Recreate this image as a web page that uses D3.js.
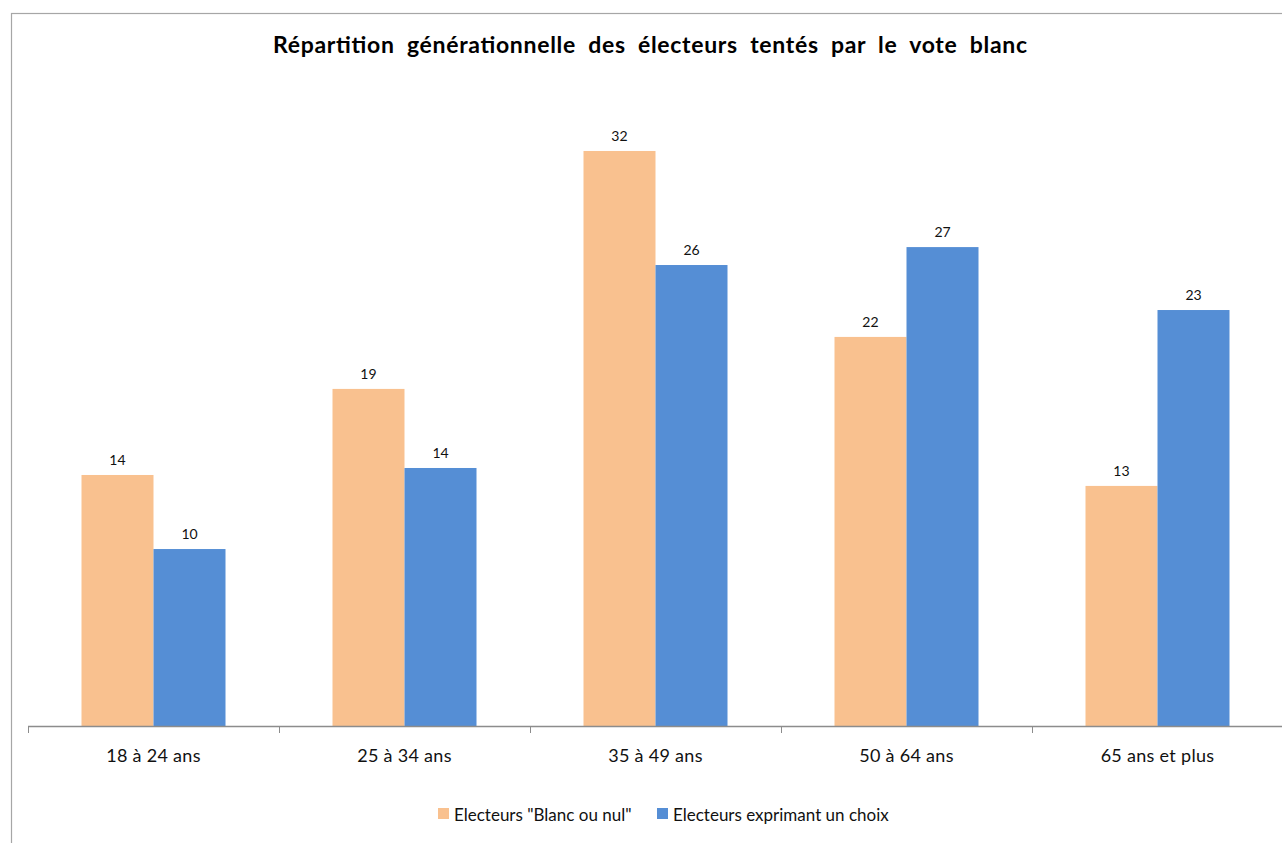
<!DOCTYPE html>
<html>
<head>
<meta charset="utf-8">
<style>
    body { margin: 0; background: #fff; }
    svg { display: block; font-family: Lato, "Noto Sans", sans-serif; }
</style>
</head>
<body>
<svg id="chart" width="1282" height="843"></svg>

<script src="https://cdn.jsdelivr.net/npm/d3@7"></script>
<script>
    // data
    let categories = ["18 à 24 ans", "25 à 34 ans", "35 à 49 ans", "50 à 64 ans", "65 ans et plus"]
    let seriesNames = ["Electeurs \"Blanc ou nul\"", "Electeurs exprimant un choix"]
    let blancOuNul = [14.0, 18.8, 32.07, 21.7, 13.39]
    let exprimantChoix = [9.87, 14.39, 25.71, 26.71, 23.2]
    let colors = ["#F9C18F", "#558ED5"]

    let svg = d3.select("#chart")

    // outer frame of the chart (runs off the right and bottom)
    svg.append("rect")
        .attr("x", 11.5).attr("y", 13.5)
        .attr("width", 1400).attr("height", 900)
        .attr("fill", "none")
        .attr("stroke", "#a6a6a6")
        .attr("stroke-width", 1.2)

    svg.append("text")
        .attr("x", 273).attr("y", 53)
        .attr("font-size", 23)
        .attr("font-weight", "bold")
        .attr("word-spacing", 6)
        .attr("textLength", 754)
        .attr("lengthAdjust", "spacing")
        .attr("fill", "#000")
        .text("Répartition générationnelle des électeurs tentés par le vote blanc")

    let x = d3.scaleBand()
        .domain(categories)
        .range([28, 1283])

    let xs = d3.scaleBand()
        .domain([0, 1])
        .range([0, x.bandwidth()])
        .paddingOuter(0.743)

    let y = d3.scaleLinear()
        .domain([0, 35])
        .range([726, 726 - 35 * 17.93])

    let rows = categories.map((c, i) => ({
        cat: c,
        vals: [blancOuNul[i], exprimantChoix[i]]
    }))

    let groups = svg.selectAll(".grp")
        .data(rows)
        .enter()
        .append("g")
        .attr("transform", d => `translate(${x(d.cat)},0)`)

    let bars = groups.selectAll("g")
        .data(d => d.vals.map((v, k) => ({ v: v, k: k })))
        .enter()
        .append("g")

    bars.append("rect")
        .attr("x", d => xs(d.k))
        .attr("width", xs.bandwidth())
        .attr("y", d => y(d.v))
        .attr("height", d => y(0) - y(d.v))
        .attr("fill", d => colors[d.k])

    bars.append("text")
        .attr("x", d => xs(d.k) + xs.bandwidth() / 2)
        .attr("y", d => y(d.v) - 10)
        .attr("text-anchor", "middle")
        .attr("font-size", 14)
        .attr("fill", "#111")
        .text(d => d3.format(".0f")(d.v))

    // x axis: ticks between categories
    let axis = svg.append("g")
    axis.append("line")
        .attr("x1", 28).attr("x2", 1283)
        .attr("y1", 726.5).attr("y2", 726.5)
        .attr("stroke", "#8c8c8c")
        .attr("stroke-width", 1.3)

    let edges = categories.map(c => x(c)).concat([x.range()[1]])
    axis.selectAll(".tick")
        .data(edges)
        .enter()
        .append("line")
        .attr("x1", d => Math.round(d) + 0.5).attr("x2", d => Math.round(d) + 0.5)
        .attr("y1", 726).attr("y2", 733)
        .attr("stroke", "#8c8c8c")

    axis.selectAll(".lbl")
        .data(categories)
        .enter()
        .append("text")
        .attr("x", d => x(d) + x.bandwidth() / 2)
        .attr("y", 762)
        .attr("text-anchor", "middle")
        .attr("font-size", 18)
        .attr("letter-spacing", 0.3)
        .attr("fill", "#111")
        .text(d => d)

    // legend
    let legendX = [438, 657]
    let legend = svg.selectAll(".leg")
        .data(seriesNames)
        .enter()
        .append("g")
        .attr("transform", (d, i) => `translate(${legendX[i]},808)`)

    legend.append("rect")
        .attr("width", 11).attr("height", 11)
        .attr("fill", (d, i) => colors[i])

    legend.append("text")
        .attr("x", 16).attr("y", 12.5)
        .attr("font-size", 17)
        .attr("fill", "#111")
        .text(d => d)
</script>
</body>
</html>
